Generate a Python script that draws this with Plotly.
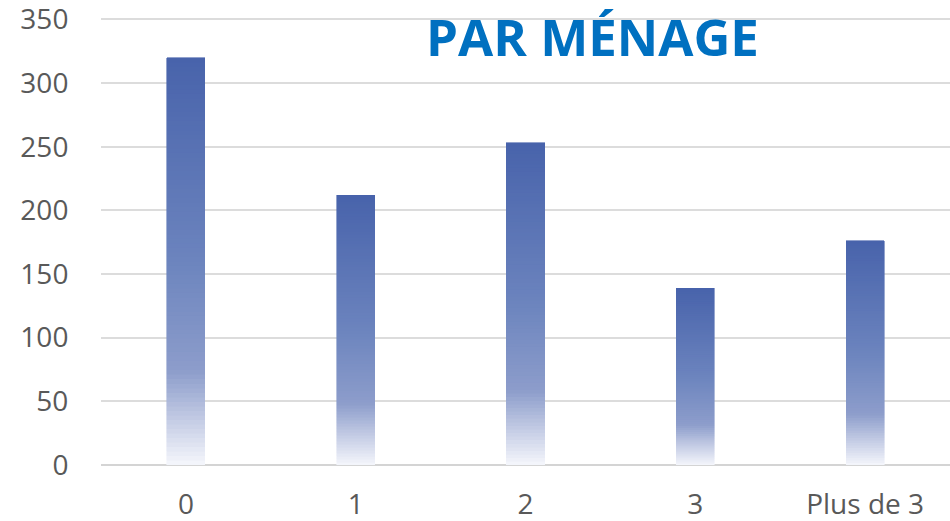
import plotly.graph_objects as go

categories = ["0", "1", "2", "3", "Plus de 3"]
values = [320, 212, 253, 139, 176]
y_ticks = [0, 50, 100, 150, 200, 250, 300, 350]
title_text = "PAR MÉNAGE"

# gradient stops (fraction from top of bar -> rgb)
stops = [(0.0, (72, 99, 171)), (0.5, (108, 132, 190)), (0.77, (141, 157, 203)), (1.0, (246, 247, 252))]


def color_at(f):
    for (f0, c0), (f1, c1) in zip(stops[:-1], stops[1:]):
        if f0 <= f <= f1:
            t = (f - f0) / (f1 - f0) if f1 > f0 else 0
            c = [round(a + (b - a) * t) for a, b in zip(c0, c1)]
            return "rgb(%d,%d,%d)" % tuple(c)
    return "rgb(%d,%d,%d)" % stops[-1][1]


N = 90
fig = go.Figure()
for k in range(N):
    frac_from_top = 1 - (k + 0.5) / N
    col = color_at(frac_from_top)
    fig.add_trace(go.Bar(
        x=categories,
        y=[v / N for v in values],
        marker=dict(color=col, line=dict(width=0.6, color=col)),
        showlegend=False,
        hoverinfo="skip",
    ))

top_px, bottom_px, ymax = 13, 465, 355
fig.update_layout(
    barmode="stack",
    bargap=0.776,
    width=950,
    height=521,
    margin=dict(l=101, r=0, t=top_px, b=521 - bottom_px, autoexpand=False),
    plot_bgcolor="white",
    paper_bgcolor="white",
    font=dict(family="Open Sans", size=28, color="#595959"),
    xaxis=dict(
        type="category",
        showgrid=False,
        showline=False,
        ticks="outside",
        ticklen=14,
        tickcolor="rgba(0,0,0,0)",
        tickfont=dict(size=28, color="#595959"),
        ticklabeloverflow="allow",
        automargin=False,
    ),
    yaxis=dict(
        range=[0, ymax],
        tickmode="array",
        tickvals=y_ticks,
        ticktext=[str(v) for v in y_ticks],
        showgrid=True,
        gridcolor="#dcdcdc",
        gridwidth=1.5,
        zeroline=True,
        zerolinecolor="#d4d4d4",
        zerolinewidth=2,
        showline=False,
        ticks="outside",
        ticklen=26,
        tickcolor="rgba(0,0,0,0)",
        tickfont=dict(size=28, color="#595959"),
        ticklabeloverflow="allow",
        automargin=False,
    ),
    annotations=[dict(
        text="<b>" + title_text + "</b>",
        x=(592 - 101) / 849, y=(465 - 36) / (465 - top_px), xref="paper", yref="paper", showarrow=False,
        font=dict(family="Open Sans", size=51, color="#0070C0"),
        xanchor="center", yanchor="middle",
    )],
)
fig.write_html(
    "out.html",
    config={"displayModeBar": False},
    post_script="document.body.style.margin='0';document.body.style.overflow='hidden';",
)
